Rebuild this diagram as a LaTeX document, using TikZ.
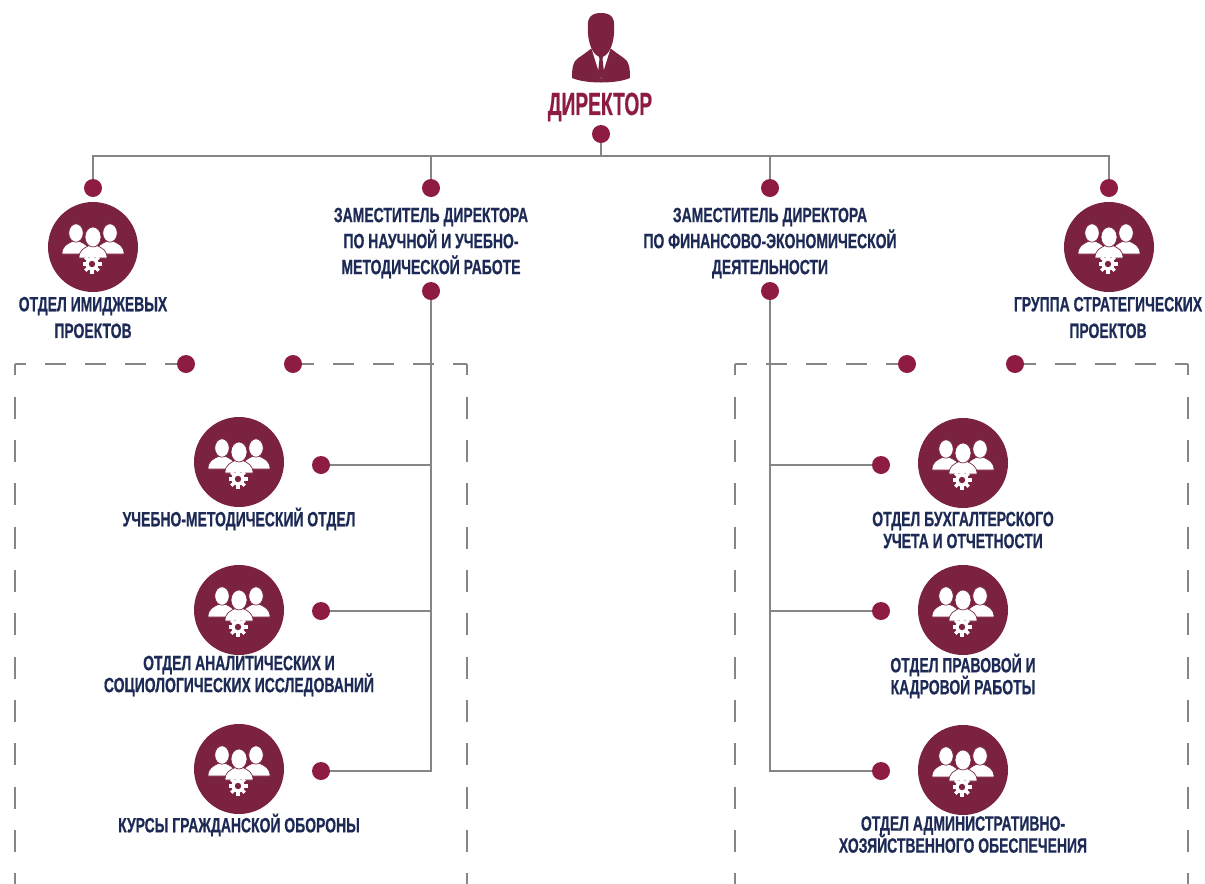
\documentclass[tikz,border=0pt]{standalone}
\usepackage{fontspec}
\newfontfamily\condfont[FakeStretch=0.675,FakeBold=0.6]{Liberation Sans Bold}
\newfontfamily\headfont[FakeStretch=0.6,FakeBold=0.6]{Liberation Sans Bold}
\usetikzlibrary{positioning}
\AtBeginDocument{\lineskiplimit=-20pt \normallineskiplimit=-20pt}
\definecolor{wine}{HTML}{7A2240}
\definecolor{dotred}{HTML}{8E1C42}
\definecolor{navy}{HTML}{1C2A55}
\definecolor{wire}{HTML}{858585}
\tikzset{%
 wire/.style={draw=wire, line width=1.5pt},
 dashwire/.style={draw=wire, line width=1.3pt},
 dot/.style={circle, fill=dotred, inner sep=0, minimum size=13.5pt},
 dept/.style={circle, fill=wine, inner sep=0, minimum size=67.5pt},
 lbl/.style={text=navy, align=center, inner sep=0, font=\condfont\fontsize{15.5}{16.5}\selectfont},
 lblwide/.style={lbl, font=\condfont\fontsize{15.5}{19.5}\selectfont},
 lbltop/.style={lbl, font=\condfont\fontsize{15.5}{20}\selectfont},
 headlbl/.style={text=dotred, inner sep=0, font=\headfont\fontsize{24}{28}\selectfont},
 deptgroup/.pic={
  \foreach \x/\y/\r in {-17/-14/7.2, 17/-14/7.2, 0/-10/8} {
   \fill [white, draw=wine, line width=.5pt] (\x-14,\y+21) .. controls (\x-14,\y+13) and (\x-9,\y+11) .. (\x-3,\y+8)
     -- (\x+3,\y+8) .. controls (\x+9,\y+11) and (\x+14,\y+13) .. (\x+14,\y+21) -- cycle;
   \fill [white, draw=wine, line width=.5pt] (\x,\y) ellipse [x radius=\r, y radius=\r+2];
  }
  \foreach \a in {0,45,...,315}
   \draw [white, line width=2.6pt] (-1,17) ++(\a:5) -- ++(\a:4.5);
  \fill [white] (-1,17) circle [radius=6.6];
  \fill [wine] (-1,17) circle [radius=3.2];
 },
 chief/.pic={
  \fill [wine] (-29,78) .. controls (-29,68) and (-28,62) .. (-24,59) .. controls (-20,56) and (-14,52) .. (-9,48) -- (9,48)
    .. controls (14,52) and (20,56) .. (24,59) .. controls (28,62) and (29,68) .. (29,78) .. controls (15,84) and (-15,84) .. (-29,78) -- cycle;
  \fill [white] (-9,50) -- (0,79) -- (9,50) -- cycle;
  \fill [wine] (-3,53) -- (3,53) -- (1.5,59) -- (3,72) -- (0,79) -- (-3,72) -- (-1.5,59) -- cycle;
  \fill [white] (-11,45) -- (11,45) -- (9,50) -- (0,53) -- (-9,50) -- cycle;
  \fill [wine] (-13,27) .. controls (-14,17) and (-9,13) .. (0,13) .. controls (9,13) and (14,17) .. (13,27)
    .. controls (14,42) and (8,57) .. (0,57) .. controls (-8,57) and (-14,42) .. (-13,27) -- cycle;
 }
}

\begin{document}
\begin{tikzpicture}[x=.75pt, y=-.75pt]
 \useasboundingbox (0,0) rectangle (1205,883);
 \clip (0,0) rectangle (1205,883);

 \pic at (601,0) {chief};
 \node [headlbl] (director) at (600,107) {ДИРЕКТОР};

 % dots
 \foreach \name/\x/\y in {root/601/134,
   imagetop/93/188, sciencetop/431/188, financetop/770/188, strategytop/1109/188,
   sciencelow/431/291, financelow/770/291,
   lefta/186/364, leftb/293/364, righta/907/364, rightb/1015/364,
   methodend/321/465, analyticend/321/611, courseend/321/771,
   accountend/881/465, lawend/881/611, housingend/881/771} {
  \node [dot] (\name) at (\x,\y) {};
 }
 \coordinate (busl) at (93,156);
 \coordinate (busr) at (1109,156);
 \coordinate (busc) at (601,156);
 \coordinate (busa) at (431,156);
 \coordinate (busb) at (770,156);
 \coordinate (sciencea) at (431,465);
 \coordinate (scienceb) at (431,611);
 \coordinate (sciencec) at (431,771);
 \coordinate (financea) at (770,465);
 \coordinate (financeb) at (770,611);
 \coordinate (financec) at (770,771);

 \draw [wire] (root) -- (busc);
 \draw [wire] (imagetop) -- (busl) -- (busr) -- (strategytop);
 \draw [wire] (busa) -- (sciencetop);
 \draw [wire] (busb) -- (financetop);
 \draw [wire] (sciencelow) -- (sciencec) -- (courseend);
 \draw [wire] (sciencea) -- (methodend);
 \draw [wire] (scienceb) -- (analyticend);
 \draw [wire] (financelow) -- (financec) -- (housingend);
 \draw [wire] (financea) -- (accountend);
 \draw [wire] (financeb) -- (lawend);

 % dashed frames
 \foreach \name/\x/\dotname in {cornera/15/lefta, cornerb/467/leftb, cornerc/735/righta, cornerd/1188/rightb} {
  \coordinate (\name) at (\x,364);
  \coordinate (\name low) at (\x,890);
  \draw [dashwire, dash pattern=on 15.75pt off 14.25pt, dash phase=6.75pt] (\dotname) -- (\name);
  \draw [dashwire, dash pattern=on 16.5pt off 16pt, dash phase=8pt] (\name) -- (\name low);
 }

 % departments
 \foreach \name/\x/\y in {imagedept/93/247, strategydept/1109/247,
   methoddept/239/462, analyticdept/239/610, coursedept/239/769,
   accountdept/963/463, lawdept/963/610, housingdept/963/770} {
  \node [dept] (\name) at (\x,\y) {};
  \pic at (\name) {deptgroup};
 }

 % labels
 \node [lbltop] (imagelbl) at (93,317.5) {ОТДЕЛ ИМИДЖЕВЫХ\\ПРОЕКТОВ};
 \node [lbltop] (strategylbl) at (1108,317.5) {ГРУППА СТРАТЕГИЧЕСКИХ\\ПРОЕКТОВ};
 \node [lblwide] (sciencelbl) at (431,243) {ЗАМЕСТИТЕЛЬ ДИРЕКТОРА\\ПО НАУЧНОЙ И УЧЕБНО-\\МЕТОДИЧЕСКОЙ РАБОТЕ};
 \node [lblwide] (financelbl) at (770,243) {ЗАМЕСТИТЕЛЬ ДИРЕКТОРА\\ПО ФИНАНСОВО-ЭКОНОМИЧЕСКОЙ\\ДЕЯТЕЛЬНОСТИ};
 \node [lbl] (methodlbl) at (239,519) {УЧЕБНО-МЕТОДИЧЕСКИЙ ОТДЕЛ};
 \node [lbl] (analyticlbl) at (239,676) {ОТДЕЛ АНАЛИТИЧЕСКИХ И\\СОЦИОЛОГИЧЕСКИХ ИССЛЕДОВАНИЙ};
 \node [lbl] (courselbl) at (239,825) {КУРСЫ ГРАЖДАНСКОЙ ОБОРОНЫ};
 \node [lbl] (accountlbl) at (963,530) {ОТДЕЛ БУХГАЛТЕРСКОГО\\УЧЕТА И ОТЧЕТНОСТИ};
 \node [lbl] (lawlbl) at (963,676) {ОТДЕЛ ПРАВОВОЙ И\\КАДРОВОЙ РАБОТЫ};
 \node [lbl] (housinglbl) at (963,834.5) {ОТДЕЛ АДМИНИСТРАТИВНО-\\ХОЗЯЙСТВЕННОГО ОБЕСПЕЧЕНИЯ};
\end{tikzpicture}
\end{document}
